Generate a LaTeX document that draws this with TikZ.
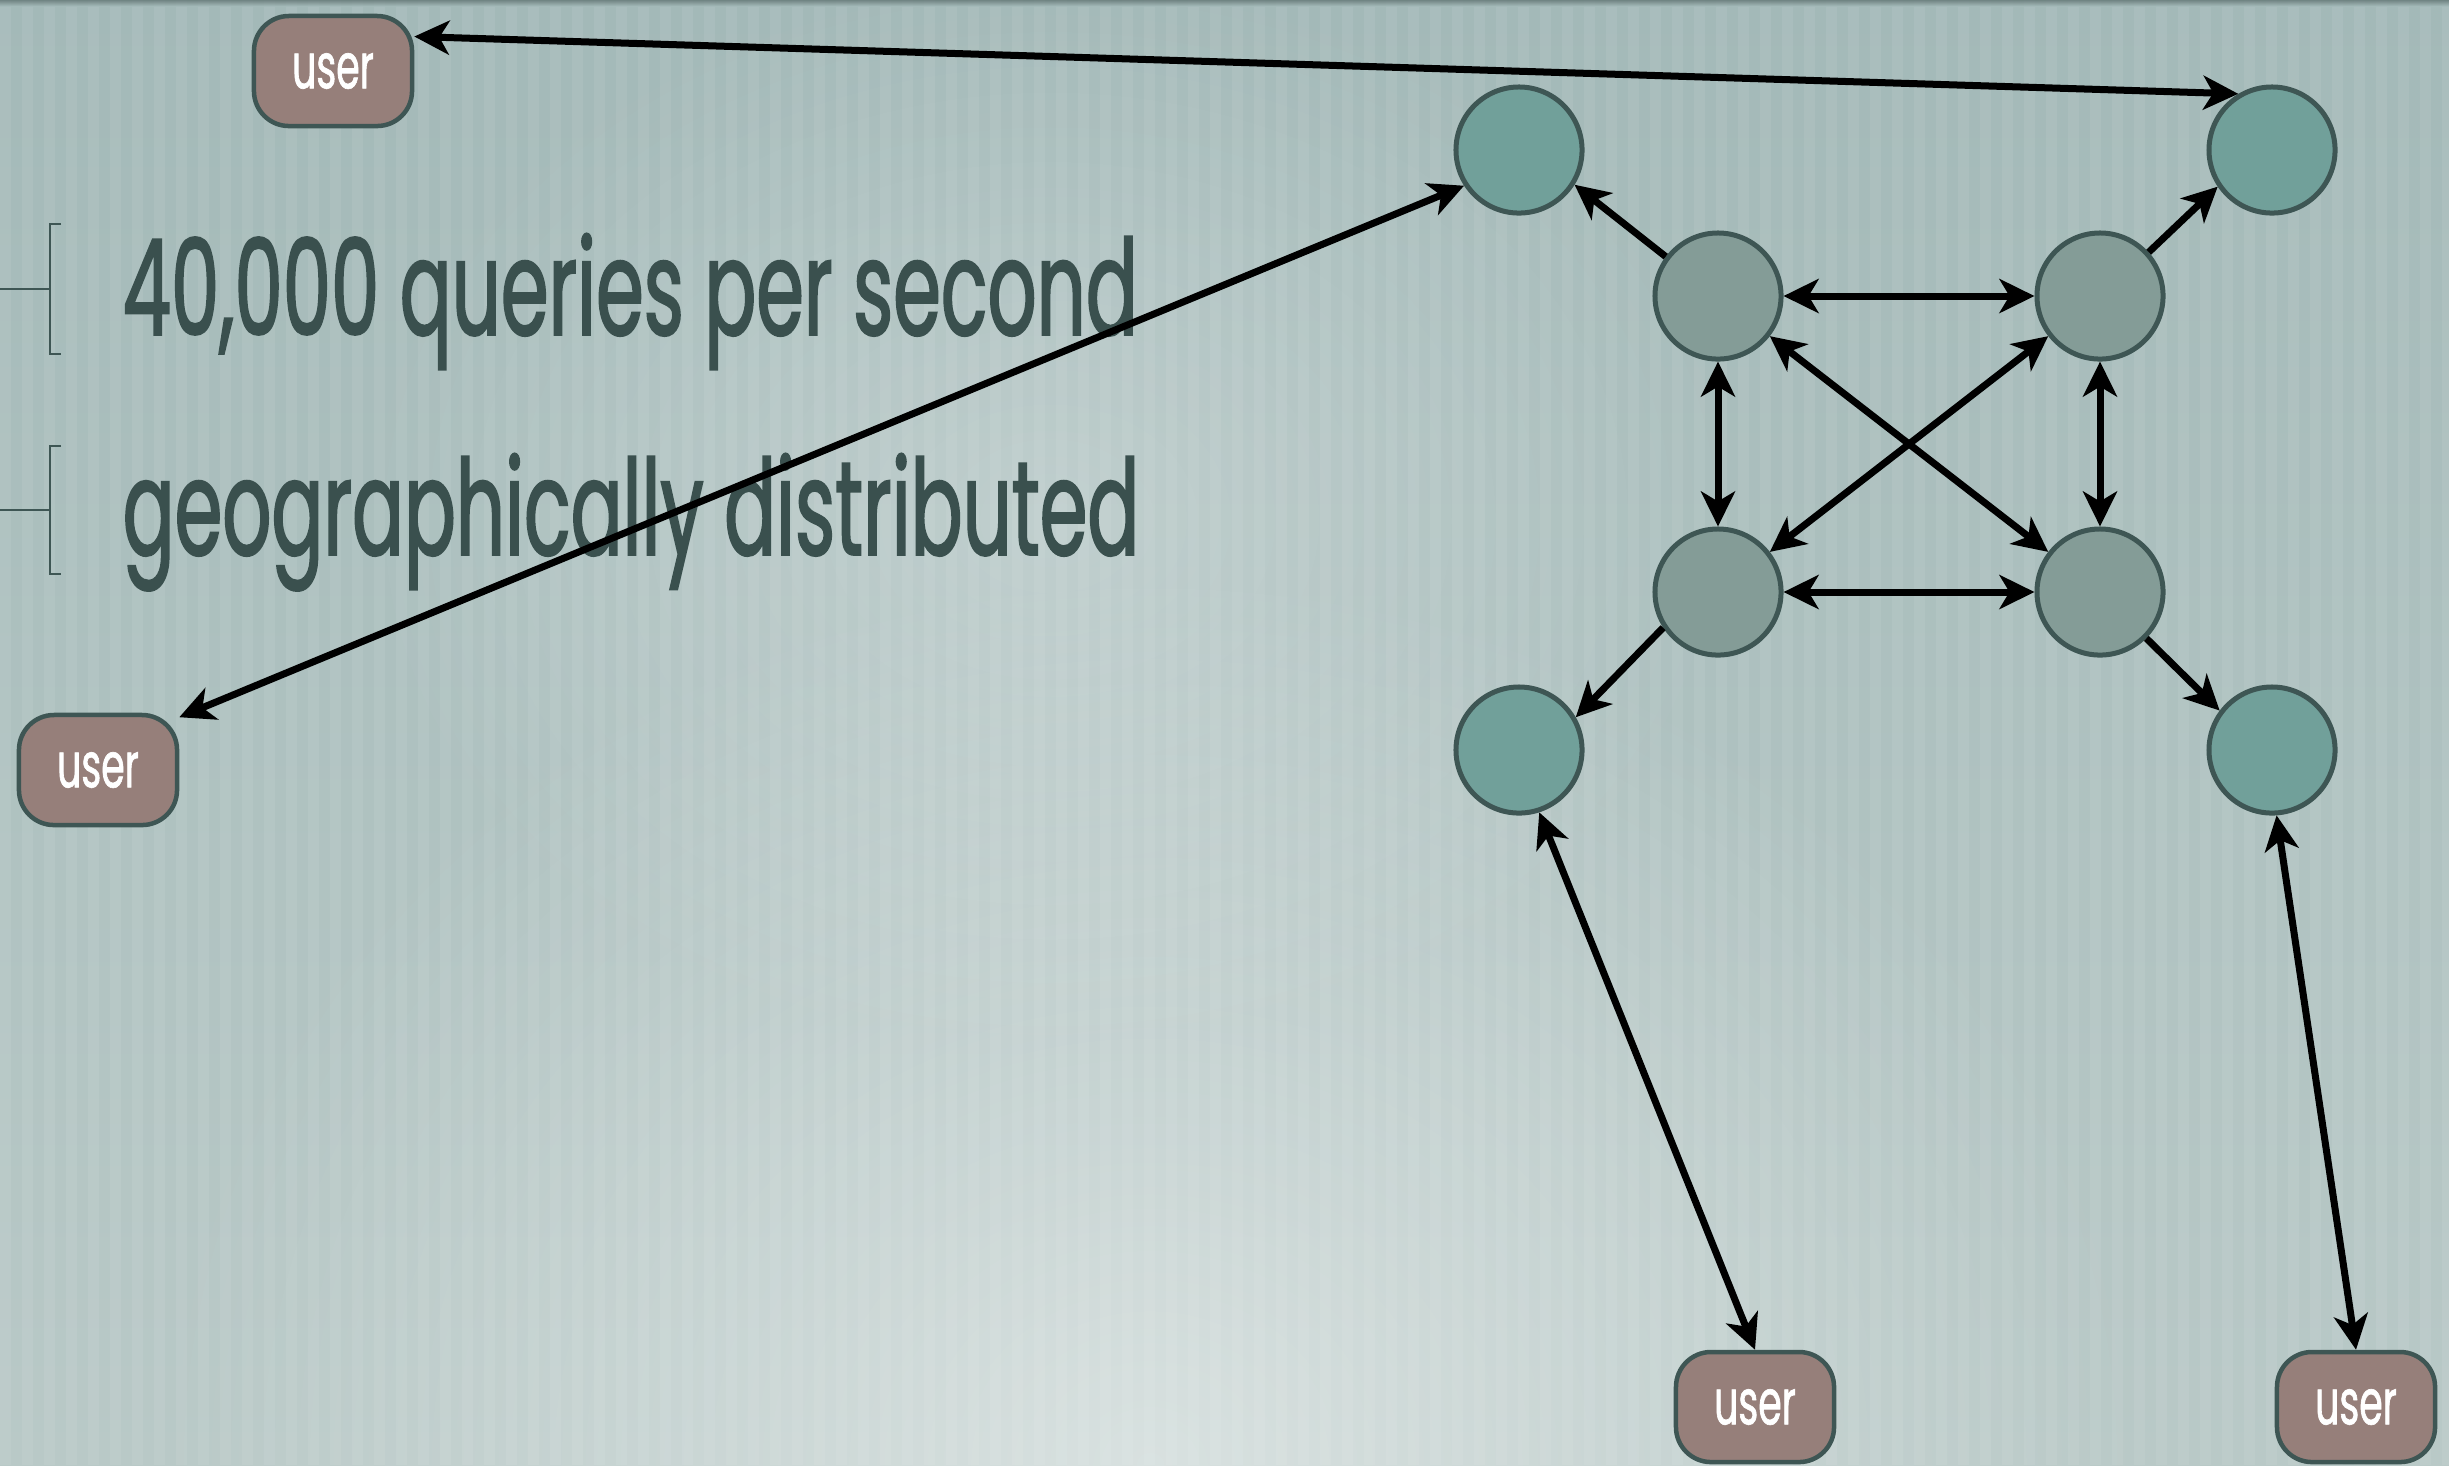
\documentclass[tikz,border=0pt]{standalone}
\usepackage{fontspec}
\usetikzlibrary{arrows.meta,fadings,calc}
\newfontfamily\slidefont{Poppins}[FakeStretch=0.575, FakeBold=1.3]
\newfontfamily\boxfont{Poppins}[FakeStretch=0.6, FakeBold=1.0]
\definecolor{bgtop}{HTML}{A3B9B8}
\definecolor{bgbot}{HTML}{B9C9C7}
\definecolor{edgecol}{HTML}{3E5654}
\definecolor{outerfill}{HTML}{71A09A}
\definecolor{innerfill}{HTML}{849C97}
\definecolor{userfill}{HTML}{967F7A}
\definecolor{txtcol}{HTML}{3A504E}
\tikzfading[name=softglow, inner color=transparent!0, outer color=transparent!100]
\tikzset{
  tipshape/.tip={Stealth[length=3.5mm,width=3.4mm,inset=1mm]},
  userbox/.style={draw=edgecol, line width=0.45mm, fill=userfill, rounded corners=3.5mm,
    minimum width=1.58cm, minimum height=1.10cm, inner sep=0pt, text=white,
    font=\boxfont\fontsize{18}{20}\selectfont},
  outerpeer/.style={circle, draw=edgecol, line width=0.5mm, fill=outerfill, minimum size=1.26cm, inner sep=0pt},
  innerpeer/.style={circle, draw=edgecol, line width=0.5mm, fill=innerfill, minimum size=1.26cm, inner sep=0pt},
  bothways/.style={line width=0.7mm, tipshape-tipshape},
  oneway/.style={line width=0.7mm, -tipshape},
  bullettxt/.style={anchor=base west, inner sep=0pt, text=txtcol, font=\slidefont\fontsize{38}{40}\selectfont},
  bracket/.style={draw=edgecol, line width=0.2mm}
}
\begin{document}
\begin{tikzpicture}[x=0.01cm, y=-0.01cm]
\useasboundingbox (0,0) rectangle (2449,1465);
% background: soft vertical gradient, light glow, fine vertical stripes
\shade[top color=bgtop, bottom color=bgbot] (0,0) rectangle (2449,1465);
\fill[white, opacity=0.45, path fading=softglow] (1150,1465) ellipse [x radius=1000, y radius=900];
\fill[white, opacity=0.25, path fading=softglow] (1050,520) ellipse [x radius=700, y radius=550];
\foreach \i in {0,...,111}{
  \fill[white, opacity=0.07] (\i*22,0) rectangle ++(11,1465);
}
\shade[top color=edgecol!80, bottom color=bgtop, opacity=0.8] (0,0) rectangle (2449,6);

% bullet markers
\draw[bracket] (0,289) -- (50,289);
\draw[bracket] (61,224) -- (50,224) -- (50,354) -- (61,354);
\draw[bracket] (0,510) -- (50,510);
\draw[bracket] (61,446) -- (50,446) -- (50,574) -- (61,574);

% bullet text
\node[bullettxt] (qps) at (122,335) {40,000 queries per second};
\node[bullettxt] (geo) at (122,555) {geographically distributed};

% server ring
\node[outerpeer] (a) at (1519,150) {};
\node[outerpeer] (b) at (2272,150) {};
\node[innerpeer] (c) at (1718,296) {};
\node[innerpeer] (d) at (2100,296) {};
\node[innerpeer] (e) at (1718,592) {};
\node[innerpeer] (f) at (2100,592) {};
\node[outerpeer] (g) at (1519,750) {};
\node[outerpeer] (h) at (2272,750) {};

% users
\node[userbox] (u1) at (333,71) {user};
\node[userbox] (u2) at (98,770) {user};
\node[userbox] (u3) at (1755,1407) {user};
\node[userbox] (u4) at (2356,1407) {user};

% links inside the core
\draw[bothways] (c) -- (d);
\draw[bothways] (e) -- (f);
\draw[bothways] (c) -- (e);
\draw[bothways] (d) -- (f);
\draw[bothways] (c) -- (f);
\draw[bothways] (d) -- (e);

% core to edge servers
\draw[oneway] (c.143) -- (a.-32);
\draw[oneway] (d.42) -- (b.214);
\draw[oneway] (e.213) -- (g.30);
\draw[oneway] (f.-45) -- (h.143);

% users to edge servers
\draw[bothways] (u1.23) -- (b.121);
\draw[bothways] (u2.33) -- (a.213);
\draw[bothways] (u3.north) -- (g.-72);
\draw[bothways] (u4.north) -- (h.-86);
\end{tikzpicture}
\end{document}
